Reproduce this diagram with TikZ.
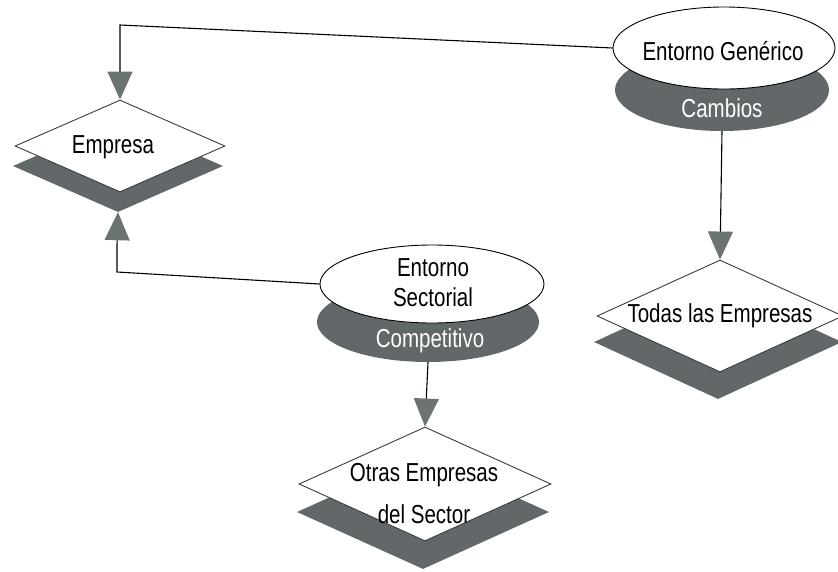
\documentclass[tikz,border=0pt]{standalone}
\usepackage{fontspec}
\setmainfont[FakeStretch=0.79]{Liberation Sans}
\usetikzlibrary{shapes.geometric,arrows.meta}
\definecolor{shadowgray}{HTML}{62686A}
\definecolor{tipgray}{HTML}{6B7472}
\definecolor{rimgray}{HTML}{3A3D3E}
\begin{document}
\begin{tikzpicture}[x=1pt,y=-1pt,
  lbl/.style={font=\fontsize{26}{30}\selectfont, text=black, inner sep=0pt},
  lblw/.style={lbl, text=white},
  shade/.style={fill=shadowgray, draw=none, inner sep=0pt},
  oval/.style={ellipse, draw=black, fill=white, line width=0.9pt, inner sep=0pt},
  diam/.style={diamond, draw=rimgray, fill=white, line width=0.9pt, inner sep=0pt},
  conn/.style={draw=black, line width=1.1pt,
    -{Triangle[width=25pt,length=28pt,color=tipgray]}},
  plain/.style={draw=black, line width=1.1pt}]
\useasboundingbox (0,0) rectangle (838,571);

% Empresa
\node[shade, diamond, minimum width=210pt, minimum height=92pt] (empsh) at (118,166) {};
\node[diam, minimum width=210pt, minimum height=92pt] (emp) at (120,146) {};
\node[lbl] (emptxt) at (113,147) {Empresa};

% Todas las Empresas
\node[shade, diamond, minimum width=248pt, minimum height=114pt] (todsh) at (718,342) {};
\node[diam, minimum width=246pt, minimum height=112pt] (tod) at (720,316) {};
\node[lbl] (todtxt) at (720,316) {Todas las Empresas};

% Otras Empresas del Sector
\node[shade, diamond, minimum width=252pt, minimum height=114pt] (otrsh) at (423,512) {};
\node[diam, minimum width=252pt, minimum height=114pt] (otr) at (425,484) {};
\node[lbl, align=center] (otrtxt) at (424,494) {Otras Empresas\\[12pt]del Sector};

% Entorno Generico
\node[shade, ellipse, minimum width=214pt, minimum height=82pt] (gensh) at (722,90) {};
\node[oval, minimum width=222pt, minimum height=82pt] (gen) at (724,48) {};
\node[lbl] (gentxt) at (723,51) {Entorno Genérico};
\node[lblw] (gensub) at (722,108) {Cambios};

% Entorno Sectorial
\node[shade, ellipse, minimum width=222pt, minimum height=80pt] (secsh) at (428,322) {};
\node[oval, minimum width=224pt, minimum height=78pt] (sec) at (432,284) {};
\node[lbl, align=center] (sectxt) at (433,283) {Entorno\\Sectorial};
\node[lblw] (secsub) at (430,341) {Competitivo};

% connectors
\coordinate (c1) at (120,25);
\coordinate (c2) at (117,272);
\coordinate (c3) at (117,245);
\draw[conn] (gen.west) -- (c1) -- (emp.north);
\draw[plain] (sec.west) -- (c2) -- (c3);
\draw[conn] (c3) -- (empsh.south);
\draw[conn] (gensh.south) -- (tod.north);
\draw[conn] (secsh.south) -- (otr.north);
\end{tikzpicture}
\end{document}
